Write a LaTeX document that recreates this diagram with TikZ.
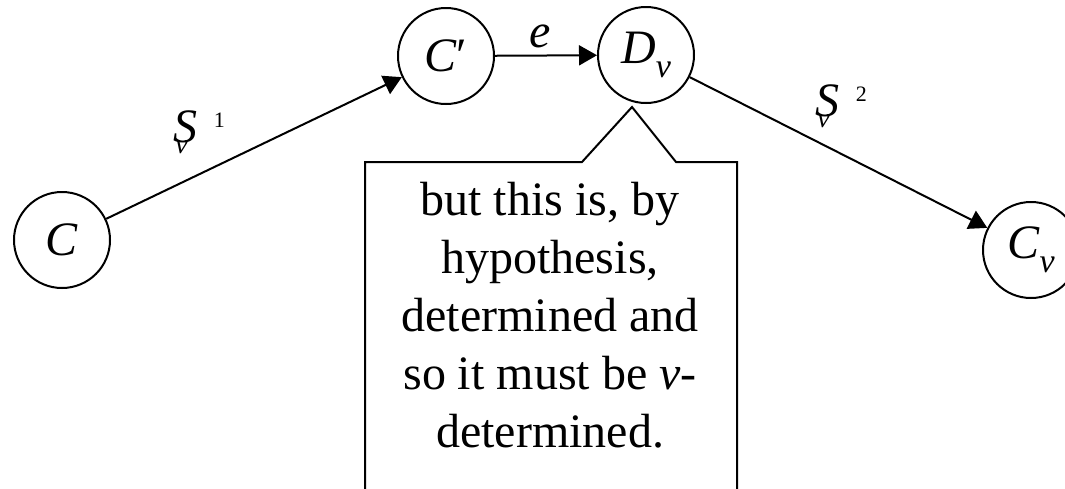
\documentclass[tikz,border=0pt]{standalone}
\usepackage{fontspec}
\setmainfont{Liberation Serif}
\usetikzlibrary{arrows.meta}

% subscript v, superscript digit as in the edge labels
\newcommand{\subv}{\raisebox{-0.3em}{\fontsize{17}{17}\selectfont\itshape v}}
\newcommand{\Sv}[1]{\textit{S}\kern-11pt\raisebox{-5.5pt}{\fontsize{14}{14}\selectfont\itshape v}\kern13pt\raisebox{7.5pt}{\fontsize{11}{11}\selectfont #1}}

\begin{document}
\begin{tikzpicture}[
    x=0.5pt, y=-0.5pt,
    font=\fontsize{24}{29}\selectfont,
    state/.style={draw, circle, line width=1pt, minimum size=48pt, inner sep=0pt},
    arr/.style={-{Triangle[length=9pt, width=10pt]}, line width=1pt},
    note/.style={align=center, inner sep=0pt, anchor=base}
]
\useasboundingbox (0,0) rectangle (1065,488);
\clip (0,0) rectangle (1065,488);

\node[state] (c)  at (62,240)   {\textit{C}};
\node[state] (cp) at (446,56)   {\textit{C}′};
\node[state] (dv) at (646,55)   {\textit{D}\subv};
\node[state] (cv) at (1031,250) {\textit{C}\subv};

\draw[arr] (c) -- (cp);
\draw[arr] (cp) -- node[midway, above, xshift=-3pt] (e) {\textit{e}} (dv);
\draw[arr] (dv) -- (cv);

\node[anchor=base west, inner sep=0pt] (s1) at (173,142) {\Sv{1}};
\node[anchor=base west, inner sep=0pt] (s2) at (815,116) {\Sv{2}};

% callout box
\draw[line width=1pt] (365,500) -- (365,162) -- (582,162) -- (632,107)
    -- (676,162) -- (737,162) -- (737,500);
\node[note] (txt) at (550,447) {but this is, by\\hypothesis,\\determined and\\so it must be \textit{v}-\\determined.};
\end{tikzpicture}
\end{document}
